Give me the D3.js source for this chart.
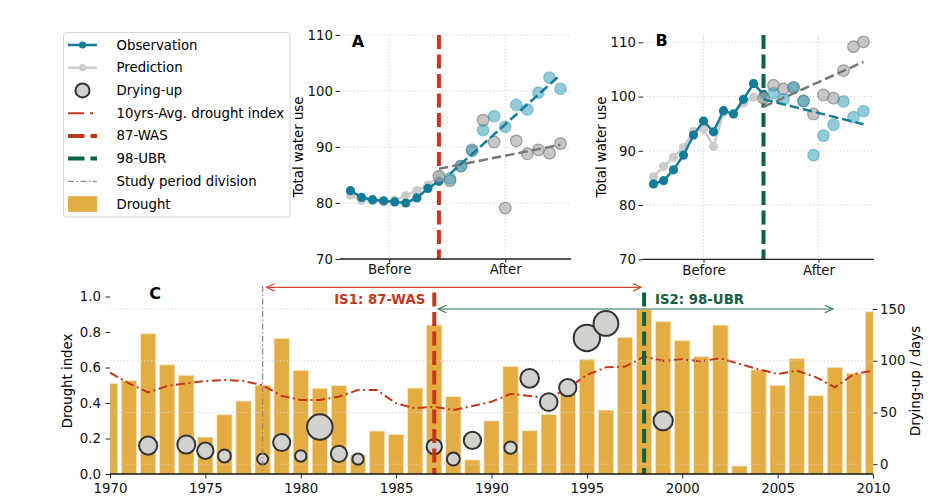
<!DOCTYPE html>
<html><head><meta charset="utf-8">
<script src="https://cdn.jsdelivr.net/npm/d3@7"></script>
<style>
body{margin:0;background:#fff;}
svg{display:block;font-family:"DejaVu Sans",sans-serif;}
</style></head><body>
<svg id="chart" width="947" height="504"></svg>
<script>
// ---------------- DATA ----------------
// Panel C
const years = [1970,1971,1972,1973,1974,1975,1976,1977,1978,1979,1980,1981,1982,1983,1984,1985,1986,1987,1988,1989,1990,1991,1992,1993,1994,1995,1996,1997,1998,1999,2000,2001,2002,2003,2004,2005,2006,2007,2008,2009,2010];
const droughtIndex = [0.51,0.525,0.79,0.615,0.556,0.208,0.334,0.411,0.50,0.764,0.584,0.483,0.498,0.107,0.242,0.223,0.484,0.839,0.436,0.079,0.299,0.605,0.244,0.336,0.48,0.646,0.36,0.77,0.926,0.858,0.751,0.661,0.839,0.045,0.586,0.50,0.65,0.441,0.601,0.567,0.914];
const avgDroughtIndex = [0.571,0.51,0.46,0.496,0.511,0.524,0.53,0.524,0.50,0.44,0.417,0.417,0.436,0.473,0.473,0.398,0.37,0.379,0.36,0.383,0.407,0.451,0.44,0.426,0.483,0.558,0.601,0.605,0.661,0.638,0.646,0.635,0.652,0.62,0.59,0.563,0.582,0.546,0.488,0.563,0.582];
const dryYears = [1972,1974,1975,1976,1978,1979,1980,1981,1982,1983,1987,1988,1989,1991,1992,1993,1994,1995,1996,1999];
const dryDays  = [18,19,13,8,5,21,8,36,10,5,17,5,23,16,83,60,74,122,136,42];
const dryLevel = [47,47,38,24,17,42,19,93,38,18,34,24,43,22,50,45,43,100,88,53];
const tickYearsC = [1970,1975,1980,1985,1990,1995,2000,2005,2010];
const leftTicksC = [0,0.2,0.4,0.6,0.8,1.0];
const rightTicksC = [0,50,100,150];
const studyStart = 1978, was87 = 1987, ubr98 = 1998, studyEnd = 2008;

// Panel A (87-WAS)
const yearsBeforeA = [1979,1980,1981,1982,1983,1984,1985,1986,1987];
const obsBeforeA  = [82.2,81.0,80.6,80.4,80.2,80.0,80.9,82.6,83.9];
const predBeforeA = [81.4,80.5,80.4,80.2,80.5,81.3,82.2,83.2,84.8];
const yearsObsAfterA = [1988,1989,1990,1991,1992,1993,1994,1995,1996,1997,1998];
const obsAfterA = [84.4,86.6,89.3,93.0,95.5,93.6,97.5,96.7,99.7,102.4,100.4];
const yearsPredAfterA = [1987,1988,1989,1990,1991,1992,1993,1994,1995,1996,1997,1998];
const predAfterA = [84.8,84.0,86.6,89.5,94.8,90.9,79.1,91.1,88.8,89.5,88.9,90.6];
const trendObsA  = {years:[1988,1998], values:[85.2,102.9]};
const trendPredA = {years:[1987,1998], values:[86.1,90.4]};
const phaseTicksA = [1982.5,1993];

// Panel B (98-UBR)
const yearsBeforeB = [1987,1988,1989,1990,1991,1992,1993,1994,1995,1996,1997,1998];
const obsBeforeB  = [83.9,84.5,86.5,89.2,92.9,95.5,93.5,97.4,96.8,99.5,102.4,100.4];
const predBeforeB = [85.2,87.1,88.8,90.6,93.6,94.0,90.8,97.0,96.8,98.8,99.9,99.7];
const yearsObsAfterB = [1999,2000,2001,2002,2003,2004,2005,2006,2007,2008];
const obsAfterB = [100.6,99.5,101.6,99.2,89.2,92.8,94.8,99.1,96.2,97.3];
const yearsPredAfterB = [1998,1999,2000,2001,2002,2003,2004,2005,2006,2007,2008];
const predAfterB = [99.7,102.1,101.4,101.7,99.2,96.8,100.3,99.7,104.8,109.2,110.1];
const trendObsB  = {years:[1998,2008], values:[99.5,94.9]};
const trendPredB = {years:[1998,2008], values:[98.1,106.4]};
const phaseTicksB = [1992,2003.5];

const phaseLabels = ["Before","After"];
const waterTicks = [70,80,90,100,110];

// ---------------- STYLE ----------------
const TEAL = "#147c98", LGRAY = "#cccccc", RED = "#c4371c", GREEN = "#0b6340",
      GOLD = "#e3ad43", FS = 13.3;

const svg = d3.select("#chart");
const defs = svg.append("defs");

// ---------------- PANEL C ----------------
const xC = d3.scaleLinear().domain([1970, 2010]).range([110, 873]);
const yL = d3.scaleLinear().domain([0, 1]).range([474, 296.5]);
const yR = d3.scaleLinear().domain([0, 150]).range([464.2, 309]);
const rDry = d3.scaleSqrt().domain([0, 100]).range([0, 13.2]);

defs.append("clipPath").attr("id","clipC").append("rect")
  .attr("x",110).attr("y",250).attr("width",763).attr("height",224);

const gC = svg.append("g");
const barsG = gC.append("g").attr("clip-path","url(#clipC)");
barsG.selectAll("rect").data(years.map((y,i)=>({y, v:droughtIndex[i]}))).join("rect")
  .attr("x", d=>xC(d.y-0.4)).attr("width", d=>xC(d.y+0.4)-xC(d.y-0.4))
  .attr("y", d=>yL(d.v)).attr("height", d=>yL(0)-yL(d.v))
  .attr("fill", GOLD).attr("stroke","#f6e6c2").attr("stroke-width",0.8);

// avg line
gC.append("path").datum(years.map((y,i)=>[y, avgDroughtIndex[i]]))
  .attr("d", d3.line().x(d=>xC(d[0])).y(d=>yL(d[1])))
  .attr("fill","none").attr("stroke", RED).attr("stroke-width",2)
  .attr("stroke-dasharray","9,3.5,2,3.5");

// gridlines (right axis)
gC.append("g").selectAll("line").data(rightTicksC).join("line")
  .attr("x1",110).attr("x2",873).attr("y1",d=>yR(d)).attr("y2",d=>yR(d))
  .attr("stroke","#d6d6d6").attr("stroke-width",1).attr("stroke-dasharray","1.2,2.2");

// drying-up circles
gC.append("g").selectAll("circle").data(dryYears.map((y,i)=>({y, d:dryDays[i], s:dryLevel[i]}))).join("circle")
  .attr("cx", d=>xC(d.y)).attr("cy", d=>yR(d.d)).attr("r", d=>rDry(d.s))
  .attr("fill","#d3d1cd").attr("stroke","#333").attr("stroke-width",2);

// vertical lines
gC.append("line").attr("x1",xC(studyStart)).attr("x2",xC(studyStart)).attr("y1",286).attr("y2",474)
  .attr("stroke","#8a8a8a").attr("stroke-width",1.3).attr("stroke-dasharray","6,2.5,1.5,2.5");
gC.append("line").attr("x1",xC(was87)).attr("x2",xC(was87)).attr("y1",292.5).attr("y2",474)
  .attr("stroke",RED).attr("stroke-width",4).attr("stroke-dasharray","14,5.5");
gC.append("line").attr("x1",xC(ubr98)).attr("x2",xC(ubr98)).attr("y1",292.5).attr("y2",474)
  .attr("stroke",GREEN).attr("stroke-width",4).attr("stroke-dasharray","14,5.5");

// axes C
const axB = gC.append("g").attr("transform","translate(0,474)")
  .call(d3.axisBottom(xC).tickValues(tickYearsC).tickFormat(d3.format("d")).tickSize(4.5).tickPadding(5.5));
const axL = gC.append("g").attr("transform","translate(110,0)")
  .call(d3.axisLeft(yL).tickValues(leftTicksC).tickFormat(d3.format(".1f")).tickSize(4.5).tickPadding(4.5));
const axR = gC.append("g").attr("transform","translate(873,0)")
  .call(d3.axisRight(yR).tickValues(rightTicksC).tickFormat(d3.format("d")).tickSize(4.5).tickPadding(2.5));
[axB, axL, axR].forEach(a=>{
  a.select(".domain").remove();
  a.selectAll("text").attr("font-size",FS).attr("fill","#111").attr("font-family","DejaVu Sans");
  a.selectAll("line").attr("stroke","#222");
});
gC.append("line").attr("x1",110).attr("x2",873).attr("y1",474).attr("y2",474)
  .attr("stroke","#111").attr("stroke-width",1.6);

gC.append("text").attr("transform","translate(67.5,381) rotate(-90)")
  .attr("text-anchor","middle").attr("dominant-baseline","central").attr("font-size",FS).text("Drought index");
gC.append("text").attr("transform","translate(915,381) rotate(-90)")
  .attr("text-anchor","middle").attr("dominant-baseline","central").attr("font-size",FS).text("Drying-up / days");
gC.append("text").attr("x",155).attr("y",293).attr("text-anchor","middle").attr("dominant-baseline","central")
  .attr("font-size",16).attr("font-weight","bold").text("C");

// arrows
function arrow(x1, x2, y, color){
  const g = svg.append("g").attr("stroke",color).attr("fill","none").attr("stroke-width",1.2);
  g.append("line").attr("x1",x1).attr("x2",x2).attr("y1",y).attr("y2",y);
  g.append("path").attr("d",`M${x1+8},${y-3.8}L${x1},${y}L${x1+8},${y+3.8}`);
  g.append("path").attr("d",`M${x2-8},${y-3.8}L${x2},${y}L${x2-8},${y+3.8}`);
}
arrow(xC(studyStart)+4, xC(ubr98)-3, 287.3, "#cf4b2e");
arrow(xC(was87)+4, xC(studyEnd)-2, 309, "#2b7a58");
svg.append("text").attr("x",xC(was87)-9).attr("y",304).attr("text-anchor","end")
  .attr("font-size",FS).attr("font-weight","bold").attr("fill",RED).text("IS1: 87-WAS");
svg.append("text").attr("x",xC(ubr98)+11).attr("y",304).attr("text-anchor","start")
  .attr("font-size",FS).attr("font-weight","bold").attr("fill","#17603f").text("IS2: 98-UBR");

// ---------------- PANELS A & B ----------------
function panel(cfg){
  const g = svg.append("g");
  const x = d3.scaleLinear().domain(cfg.xDomain).range(cfg.xRange);
  const y = d3.scaleLinear().domain(cfg.yDomain).range(cfg.yRange);
  const [x0,x1] = cfg.xRange, [y0,y1] = cfg.yRange;
  // grid
  g.append("g").selectAll("line").data(waterTicks).join("line")
    .attr("x1",x0).attr("x2",x1).attr("y1",d=>y(d)).attr("y2",d=>y(d))
    .attr("stroke","#d0d0d0").attr("stroke-dasharray","1.2,2.2");
  g.append("g").selectAll("line").data(cfg.phaseTicks).join("line")
    .attr("x1",d=>x(d)).attr("x2",d=>x(d)).attr("y1",y1).attr("y2",y0)
    .attr("stroke","#d0d0d0").attr("stroke-dasharray","1.2,2.2");
  // intervention line
  g.append("line").attr("x1",x(cfg.cut)).attr("x2",x(cfg.cut)).attr("y1",35).attr("y2",y0)
    .attr("stroke",cfg.cutColor).attr("stroke-width",4).attr("stroke-dasharray","14,5.5");
  const line = d3.line().x(d=>x(d[0])).y(d=>y(d[1]));
  // prediction before
  const pb = cfg.yearsBefore.map((yr,i)=>[yr, cfg.predBefore[i]]);
  g.append("path").datum(pb).attr("d",line).attr("fill","none").attr("stroke",LGRAY).attr("stroke-width",2.5);
  g.append("g").selectAll("circle").data(pb).join("circle").attr("cx",d=>x(d[0])).attr("cy",d=>y(d[1])).attr("r",4.6).attr("fill",LGRAY);
  // observation before
  const ob = cfg.yearsBefore.map((yr,i)=>[yr, cfg.obsBefore[i]]);
  g.append("path").datum(ob).attr("d",line).attr("fill","none").attr("stroke",TEAL).attr("stroke-width",2.5);
  g.append("g").selectAll("circle").data(ob).join("circle").attr("cx",d=>x(d[0])).attr("cy",d=>y(d[1])).attr("r",4.6).attr("fill",TEAL);
  // after scatter
  g.append("g").selectAll("circle").data(cfg.yearsPredAfter.map((yr,i)=>[yr,cfg.predAfter[i]])).join("circle")
    .attr("cx",d=>x(d[0])).attr("cy",d=>y(d[1])).attr("r",5.8)
    .attr("fill","#a9a9a9").attr("fill-opacity",0.65).attr("stroke","#7a7a7a").attr("stroke-opacity",0.7).attr("stroke-width",1.2);
  g.append("g").selectAll("circle").data(cfg.yearsObsAfter.map((yr,i)=>[yr,cfg.obsAfter[i]])).join("circle")
    .attr("cx",d=>x(d[0])).attr("cy",d=>y(d[1])).attr("r",5.8)
    .attr("fill","#2a97b3").attr("fill-opacity",0.5).attr("stroke","#2a97b3").attr("stroke-opacity",0.45).attr("stroke-width",1.2);
  // trends
  g.append("path").datum(cfg.trendPred.years.map((yr,i)=>[yr,cfg.trendPred.values[i]])).attr("d",line)
    .attr("fill","none").attr("stroke","#777").attr("stroke-width",2.5).attr("stroke-dasharray","9.5,4");
  g.append("path").datum(cfg.trendObs.years.map((yr,i)=>[yr,cfg.trendObs.values[i]])).attr("d",line)
    .attr("fill","none").attr("stroke",TEAL).attr("stroke-width",2.5).attr("stroke-dasharray","9.5,4");
  // axes
  const ay = g.append("g").attr("transform",`translate(${x0},0)`)
    .call(d3.axisLeft(y).tickValues(waterTicks).tickFormat(d3.format("d")).tickSize(4.5).tickPadding(2.5));
  const ax = g.append("g").attr("transform",`translate(0,${y0})`)
    .call(d3.axisBottom(x).tickValues(cfg.phaseTicks).tickFormat((d,i)=>phaseLabels[i]).tickSize(3.5).tickPadding(2.5));
  [ay, ax].forEach(a=>{
    a.select(".domain").remove();
    a.selectAll("text").attr("font-size",FS).attr("fill","#111").attr("font-family","DejaVu Sans");
    a.selectAll("line").attr("stroke","#222");
  });
  g.append("line").attr("x1",x0).attr("x2",x1).attr("y1",y0).attr("y2",y0).attr("stroke","#222").attr("stroke-width",1.3);
  g.append("text").attr("transform",`translate(${cfg.labelX},${cfg.labelY}) rotate(-90)`)
    .attr("text-anchor","middle").attr("dominant-baseline","central").attr("font-size",FS).text("Total water use");
  g.append("text").attr("x",cfg.letterX).attr("y",cfg.letterY).attr("text-anchor","middle").attr("dominant-baseline","central")
    .attr("font-size",16).attr("font-weight","bold").text(cfg.letter);
}

panel({xDomain:[1979-0.95, 1998+0.95], xRange:[340,571], yDomain:[70,110], yRange:[259,35],
  cut:was87, cutColor:RED, phaseTicks:phaseTicksA,
  yearsBefore:yearsBeforeA, obsBefore:obsBeforeA, predBefore:predBeforeA,
  yearsObsAfter:yearsObsAfterA, obsAfter:obsAfterA, yearsPredAfter:yearsPredAfterA, predAfter:predAfterA,
  trendObs:trendObsA, trendPred:trendPredA, labelX:298.5, labelY:147, letter:"A", letterX:358, letterY:41.5});

panel({xDomain:[1987-1.05, 2008+1.05], xRange:[643,874], yDomain:[70,111.35], yRange:[259.3,35],
  cut:ubr98, cutColor:GREEN, phaseTicks:phaseTicksB,
  yearsBefore:yearsBeforeB, obsBefore:obsBeforeB, predBefore:predBeforeB,
  yearsObsAfter:yearsObsAfterB, obsAfter:obsAfterB, yearsPredAfter:yearsPredAfterB, predAfter:predAfterB,
  trendObs:trendObsB, trendPred:trendPredB, labelX:601.5, labelY:147, letter:"B", letterX:661.5, letterY:40.5});

// ---------------- LEGEND ----------------
const legendItems = ["Observation","Prediction","Drying-up","10yrs-Avg. drought index","87-WAS","98-UBR","Study period division","Drought"];
const lg = svg.append("g");
lg.append("rect").attr("x",63.5).attr("y",32.5).attr("width",226.5).attr("height",184.5).attr("rx",3)
  .attr("fill","#fff").attr("fill-opacity",0.85).attr("stroke","#d4d4d4").attr("stroke-width",1);
const rowY = i => 45 + 22.72*i;
const hx0 = 68, hx1 = 97, hxc = 82.5;
legendItems.forEach((t,i)=>{
  const yy = rowY(i);
  lg.append("text").attr("x",116.5).attr("y",yy).attr("dominant-baseline","central").attr("font-size",FS).text(t);
});
lg.append("line").attr("x1",hx0).attr("x2",hx1).attr("y1",rowY(0)).attr("y2",rowY(0)).attr("stroke",TEAL).attr("stroke-width",2.5);
lg.append("circle").attr("cx",hxc).attr("cy",rowY(0)).attr("r",3.6).attr("fill",TEAL);
lg.append("line").attr("x1",hx0).attr("x2",hx1).attr("y1",rowY(1)).attr("y2",rowY(1)).attr("stroke",LGRAY).attr("stroke-width",2.5);
lg.append("circle").attr("cx",hxc).attr("cy",rowY(1)).attr("r",3.6).attr("fill",LGRAY);
lg.append("circle").attr("cx",hxc).attr("cy",rowY(2)).attr("r",7).attr("fill","#d3d1cd").attr("stroke","#333").attr("stroke-width",2);
lg.append("line").attr("x1",hx0).attr("x2",hx1).attr("y1",rowY(3)).attr("y2",rowY(3)).attr("stroke",RED).attr("stroke-width",2).attr("stroke-dasharray","16,6,3,6");
lg.append("line").attr("x1",hx0).attr("x2",hx1).attr("y1",rowY(4)).attr("y2",rowY(4)).attr("stroke",RED).attr("stroke-width",4).attr("stroke-dasharray","16.5,6");
lg.append("line").attr("x1",hx0).attr("x2",hx1).attr("y1",rowY(5)).attr("y2",rowY(5)).attr("stroke",GREEN).attr("stroke-width",4).attr("stroke-dasharray","16.5,6");
lg.append("line").attr("x1",hx0).attr("x2",hx1).attr("y1",rowY(6)).attr("y2",rowY(6)).attr("stroke","#8a8a8a").attr("stroke-width",1.3).attr("stroke-dasharray","6,2.5,1.5,2.5");
lg.append("rect").attr("x",hx0).attr("y",rowY(7)-7.8).attr("width",hx1-hx0).attr("height",15.6).attr("fill",GOLD);
</script>
</body></html>
